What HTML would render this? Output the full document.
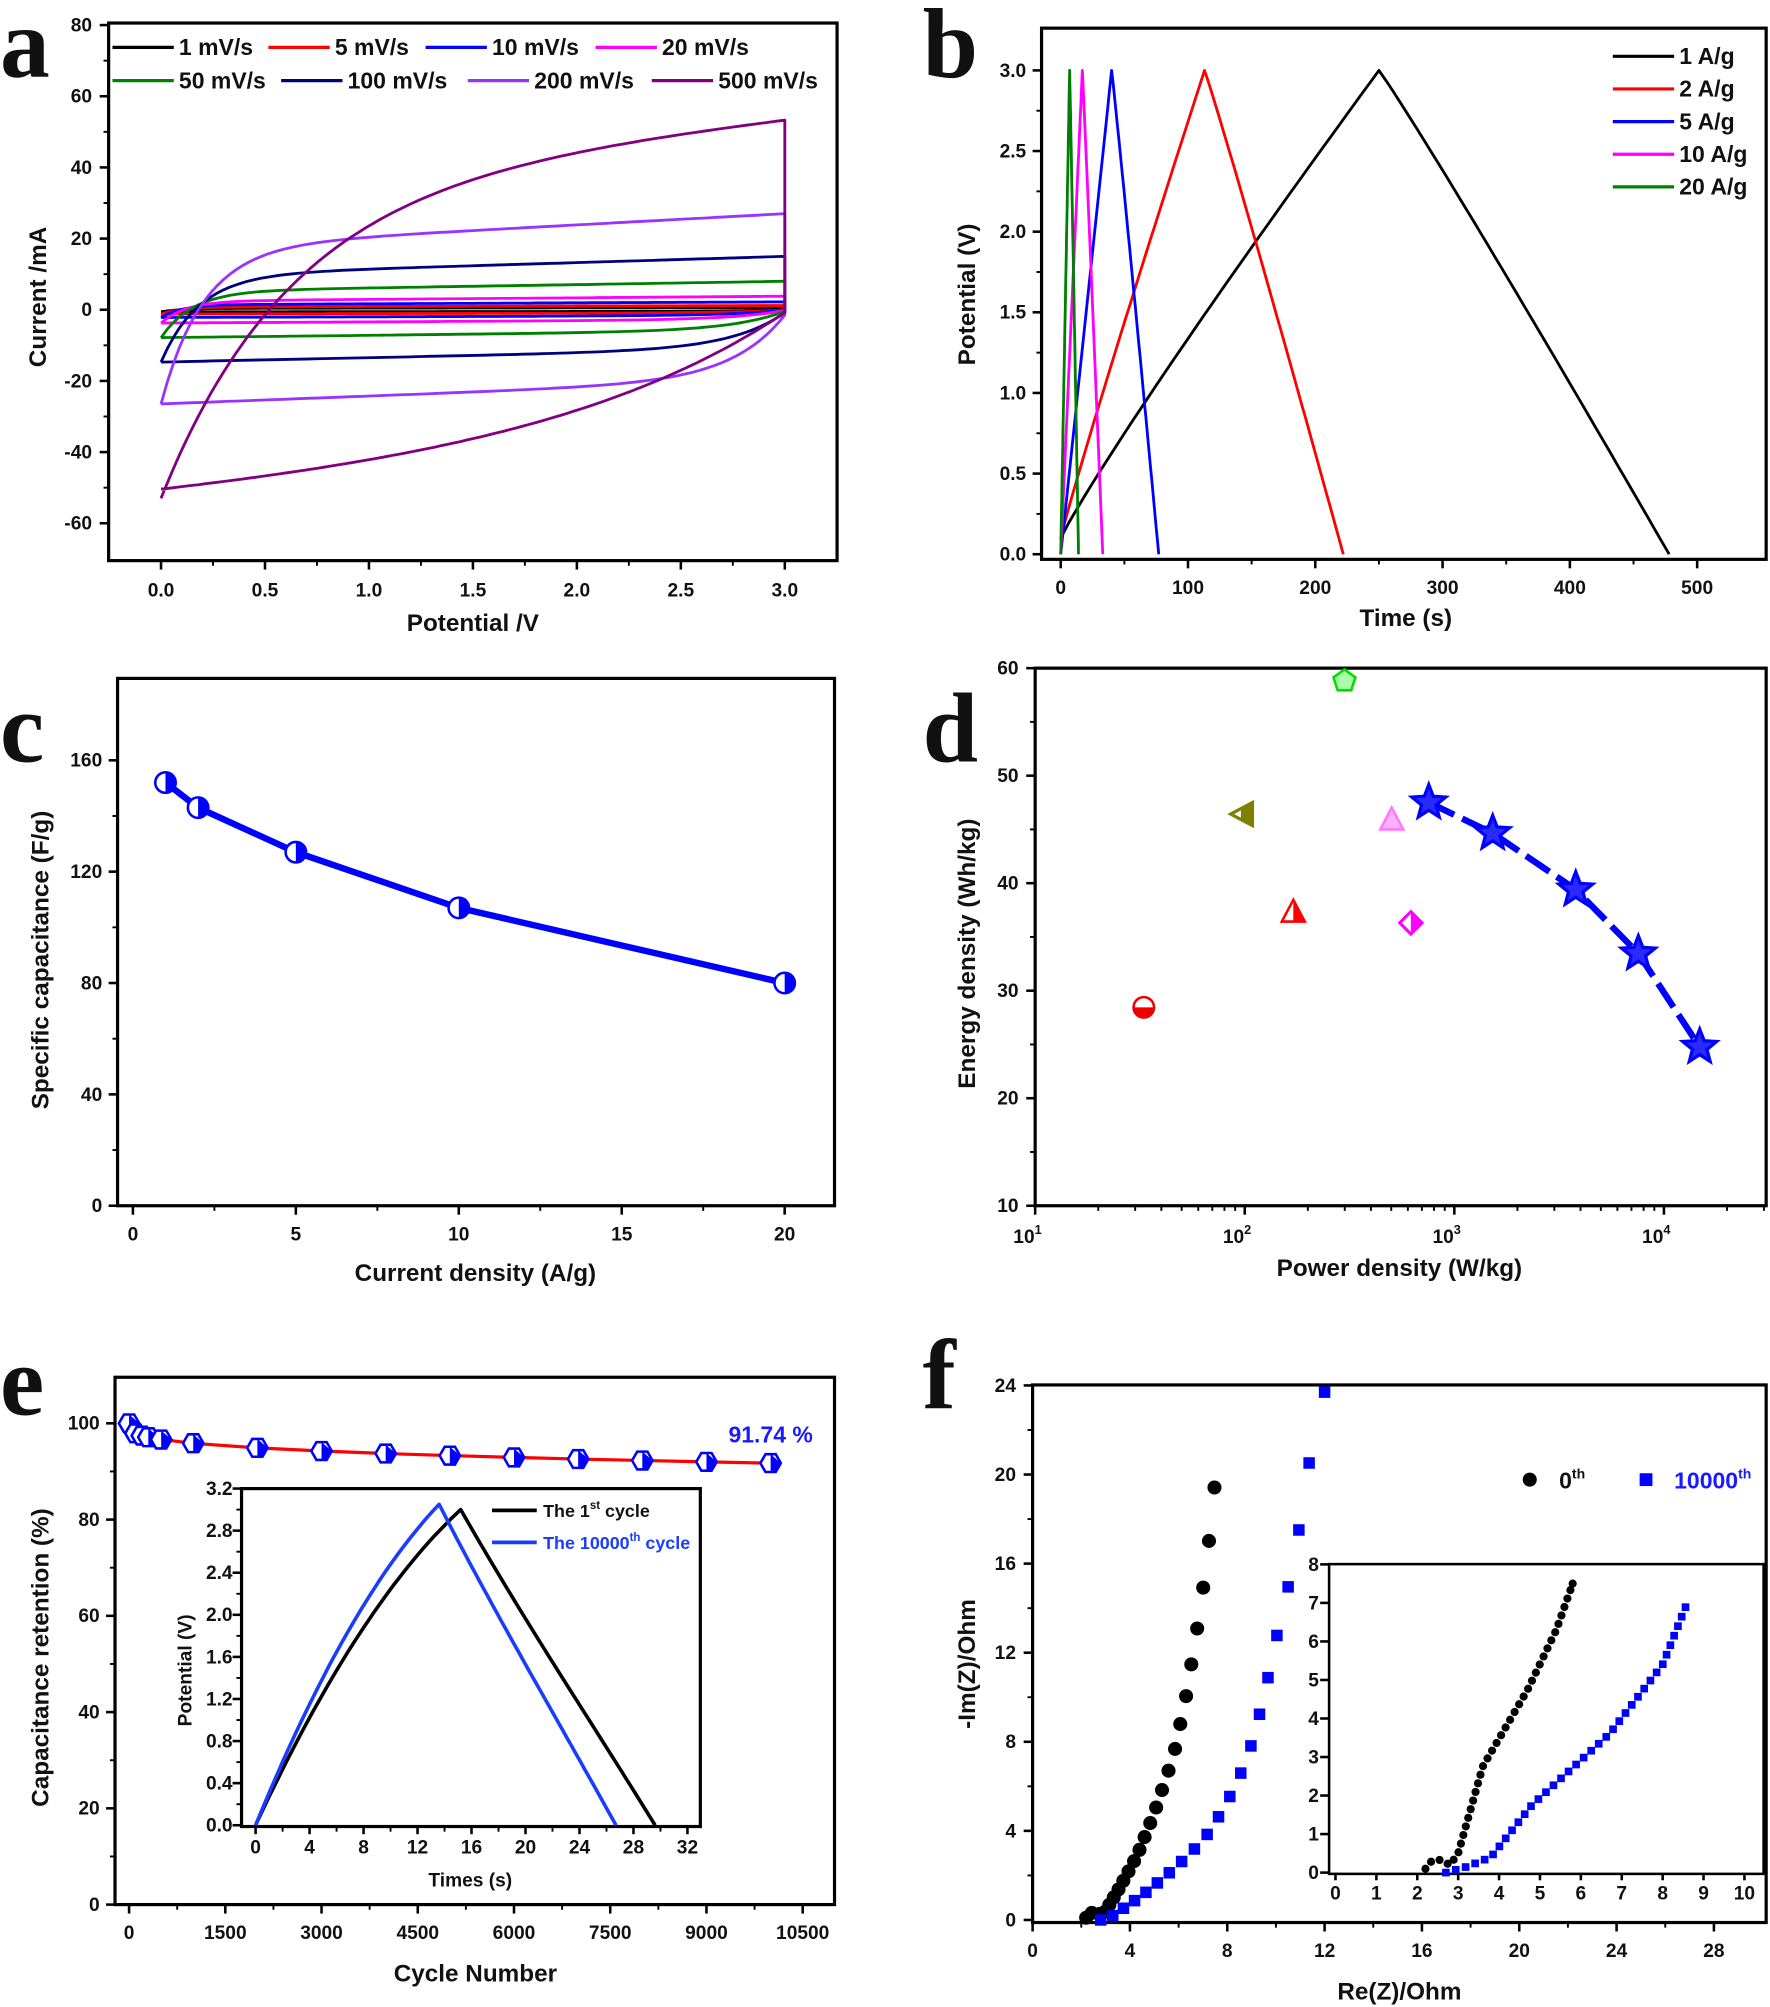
<!DOCTYPE html>
<html><head><meta charset="utf-8"><style>
html,body{margin:0;padding:0;background:#fff}
svg{display:block}
text{font-family:"Liberation Sans",Arial,sans-serif;font-weight:bold;fill:#111}
.big{font-family:"Liberation Serif",serif;font-weight:bold}
</style></head><body>
<svg id="s" width="1770" height="2007" viewBox="0 0 1385 1568" preserveAspectRatio="none" xmlns="http://www.w3.org/2000/svg"></svg>
<script>
let h='';
function L(x1,y1,x2,y2,c,w,ex){h+=`<line x1="${x1}" y1="${y1}" x2="${x2}" y2="${y2}" stroke="${c||'#000'}" stroke-width="${w||2}" ${ex||''}/>`;}
function T(x,y,t,sz,an,ex){h+=`<text x="${x}" y="${y}" font-size="${sz||15}" text-anchor="${an||'middle'}" ${ex||''}>${t}</text>`;}
function P(pts,c,w,ex){h+=`<polyline fill="none" stroke="${c}" stroke-width="${w||2}" stroke-linejoin="round" points="${pts.map(p=>p[0].toFixed(1)+','+p[1].toFixed(1)).join(' ')}" ${ex||''}/>`;}
function box(x1,y1,x2,y2,w){h+=`<rect x="${x1}" y="${y1}" width="${x2-x1}" height="${y2-y1}" fill="none" stroke="#000" stroke-width="${w||2.5}"/>`;}
function xt(xs,y,labels,ly,minor,len){xs.forEach((x,i)=>{L(x,y,x,y+(len||7),'#000',2);if(labels&&labels[i]!=null)T(x,ly,labels[i],15);});
 if(minor){for(let i=0;i<xs.length-1;i++){const m=(xs[i]+xs[i+1])/2;L(m,y,m,y+4,'#000',1.5);}}}
function yt(ys,x,labels,lx,minor){ys.forEach((y,i)=>{L(x-7,y,x,y,'#000',2);if(labels&&labels[i]!=null)T(lx,y+5,labels[i],15,'end');});
 if(minor){for(let i=0;i<ys.length-1;i++){const m=(ys[i]+ys[i+1])/2;L(x-4,m,x,m,'#000',1.5);}}}
function rot(x,y,t,sz){h+=`<text x="${x}" y="${y}" font-size="${sz||19}" text-anchor="middle" transform="rotate(-90 ${x} ${y})">${t}</text>`;}
function big(x,y,t){h+=`<text class="big" x="${x}" y="${y}" font-size="78" text-anchor="start">${t}</text>`;}

// ---------- Panel a ----------
{const X=v=>126+v*162.7,Y=v=>242-v*2.78;
box(85,18,655,438);
xt([0,.5,1,1.5,2,2.5,3].map(X),438,['0.0','0.5','1.0','1.5','2.0','2.5','3.0'],466,true);
yt([80,60,40,20,0,-20,-40,-60].map(Y),85,['80','60','40','20','0','-20','-40','-60'],72,true);
rot(36,232,'Current /mA');T(370,493,'Potential /V',19);big(0,60,'a');
const sets=[[0.6,'#000',0.1],[1.2,'#ff0000',0.1],[2.2,'#0000ff',0.1],[3.8,'#ff00ff',0.12],[8,'#008000',0.15],[15,'#000080',0.18],[27,'#9933ff',0.2],[54,'#800080',0.6]];
sets.forEach(([A,c,tau])=>{const pts=[];const lo=(A>40?-53:-A*0.98);
 for(let i=0;i<=100;i++){const x=3*i/100;const b=A*(0.65+0.35*x/3);const e=Math.exp(-x/tau);pts.push([X(x),Y(b*(1-e)+lo*e)]);}
 const t2=A>40?1:0.25;
 for(let i=100;i>=0;i--){const x=3*i/100;const v=lo*(1-0.25*x/3)*(1-Math.exp(-(3.02-x)/t2));pts.push([X(x),Y(v)]);}
 P(pts,c,2.2);});
const leg=[[88,37,'#000','1 mV/s'],[210,37,'#ff0000','5 mV/s'],[333,37,'#0000ff','10 mV/s'],[466,37,'#ff00ff','20 mV/s'],[88,63,'#008000','50 mV/s'],[220,63,'#000080','100 mV/s'],[366,63,'#9933ff','200 mV/s'],[510,63,'#800080','500 mV/s']];
leg.forEach(([x,y,c,t])=>{L(x,y,x+48,y,c,2.5);T(x+52,y+6,t,18,'start');});}

// ---------- Panel b ----------
{const X=v=>830+v*0.996,Y=v=>433-v*126;
box(815,22,1382,437);
xt([0,100,200,300,400,500].map(X),437,['0','100','200','300','400','500'],464,true);
yt([3,2.5,2,1.5,1,.5,0].map(Y),815,['3.0','2.5','2.0','1.5','1.0','0.5','0.0'],803,true);
rot(763,230,'Potential (V)');T(1100,489,'Time (s)',19);big(722,60,'b');
const cs=[[0.1,250,478,'#000',0.93],[0.1,113,222,'#ff0000',0.95],[0,40,77,'#0000ff',1],[0,17,33,'#ff00ff',1],[0,7,14,'#008000',1]];
cs.forEach(([v0,tp,te,c,p])=>{const pts=[];for(let i=0;i<=40;i++){const f=i/40;pts.push([X(tp*f),Y(v0+(3-v0)*Math.pow(f,p))]);}
 for(let i=0;i<=40;i++){const f=i/40;pts.push([X(tp+(te-tp)*f),Y(3-3*Math.pow(f,1.04))]);}P(pts,c,2.2);});
[['#000','1 A/g'],['#ff0000','2 A/g'],['#0000ff','5 A/g'],['#ff00ff','10 A/g'],['#008000','20 A/g']].forEach(([c,t],i)=>{const y=44+i*25.5;L(1262,y,1310,y,c,2.5);T(1314,y+6,t,18,'start');});}

// ---------- Panel c ----------
function halfC(x,y,r,c,ang){h+=`<circle cx="${x}" cy="${y}" r="${r}" fill="#fff" stroke="${c}" stroke-width="2"/><path d="M${x},${y-r} A${r},${r} 0 0 1 ${x},${y+r} Z" fill="${c}" transform="rotate(${ang||0} ${x} ${y})"/>`;}
{const X=v=>104+v*25.5,Y=v=>942-v*2.175;
box(92,530,653,942);
xt([0,5,10,15,20].map(X),942,['0','5','10','15','20'],969,true);
yt([160,120,80,40,0].map(Y),92,['160','120','80','40','0'],80,true);
rot(38,750,'Specific capacitance (F/g)');T(372,1001,'Current density (A/g)',19);big(0,595,'c');
const d=[[1,152],[2,143],[5,127],[10,107],[20,80]];P(d.map(p=>[X(p[0]),Y(p[1])]),'#0000ff',5);
d.forEach(p=>halfC(X(p[0]),Y(p[1]),8,'#0000ff'));}

// ---------- Panel d ----------
{const X=v=>810+(Math.log10(v)-1)*164,Y=v=>942-(v-10)*8.4;
box(810,522,1382,942);
xt([1,2,3,4].map(k=>X(Math.pow(10,k))),942,null,0,false);
for(let k=1;k<5;k++)for(let m=2;m<10;m++){const x=X(m*Math.pow(10,k));if(x<1382)L(x,942,x,946,'#000',1.5);}
[1,2,3,4].forEach(k=>{const x=X(Math.pow(10,k));h+=`<text x="${x-6}" y="971" font-size="15" text-anchor="middle">10<tspan dy="-7" font-size="10">${k}</tspan></text>`;});
yt([60,50,40,30,20,10].map(Y),810,['60','50','40','30','20','10'],797,true);
rot(763,745,'Energy density (Wh/kg)');T(1095,997,'Power density (W/kg)',19);big(722,595,'d');
const st=[[1118,627],[1168,651],[1233,695],[1282,745],[1330,818]];
P(st,'#0000ff',5,'stroke-dasharray="22 7"');
st.forEach(([x,y])=>{let d='';for(let i=0;i<10;i++){const r=i%2?6:14,a=-Math.PI/2+i*Math.PI/5;d+=(i?'L':'M')+(x+r*Math.cos(a)).toFixed(1)+','+(y+r*Math.sin(a)).toFixed(1);}h+=`<path d="${d}Z" fill="#2a2aff" stroke="#0000ff" stroke-width="2.5"/>`;});
{let x=1052,y=532,d='';for(let i=0;i<5;i++){const a=-Math.PI/2+i*2*Math.PI/5;d+=(i?'L':'M')+(x+9*Math.cos(a)).toFixed(1)+','+(y+9*Math.sin(a)).toFixed(1);}h+=`<path d="${d}Z" fill="#aaffaa" stroke="#00dd00" stroke-width="2"/>`;}
h+=`<path d="M963,636 L980,627 L980,645 Z" fill="#fff" stroke="#808000" stroke-width="2.5"/><path d="M971,632 L980,627 L980,645 L971,640Z" fill="#808000"/>`;
h+=`<path d="M1089,631 L1098,648 L1080,648 Z" fill="#ffb0ff" stroke="#ff77ff" stroke-width="2"/>`;
h+=`<path d="M1012,703 L1021,720 L1003,720 Z" fill="#fff" stroke="#ff0000" stroke-width="2"/><path d="M1012,703 L1021,720 L1012,720 Z" fill="#ff0000"/>`;
h+=`<path d="M1104,712 L1113,721 L1104,730 L1095,721 Z" fill="#ff00ff" stroke="#ff00ff" stroke-width="2"/><path d="M1104,714 L1097,721 L1104,728Z" fill="#fff"/>`;
h+=`<circle cx="895" cy="787" r="8" fill="#fff" stroke="#e00" stroke-width="2"/><path d="M887,787 A8,8 0 0 0 903,787Z" fill="#e00"/>`;}

// ---------- Panel e ----------
{const X=v=>101+v*0.0502,Y=v=>1488-v*3.76;
box(90,1076,653,1488);
xt([0,1500,3000,4500,6000,7500,9000,10500].map(X),1488,['0','1500','3000','4500','6000','7500','9000','10500'],1515,true);
yt([100,80,60,40,20,0].map(Y),90,['100','80','60','40','20','0'],78,true);
rot(38,1295,'Capacitance retention (%)');T(372,1548,'Cycle Number',19);big(0,1105,'e');
const cy=[0,100,200,300,500,1000,2000,3000,4000,5000,6000,7000,8000,9000,10000];
const val=c=>100-8.26*Math.pow(c/10000,0.3);
const pts=cy.map(c=>[X(c),Y(val(c))]);P(pts,'#ff0000',2.5);
pts.forEach(([x,y])=>{let d='';for(let i=0;i<6;i++){const a=i*Math.PI/3;d+=(i?'L':'M')+(x+8*Math.cos(a)).toFixed(1)+','+(y+8*Math.sin(a)).toFixed(1);}h+=`<path d="${d}Z" fill="#fff" stroke="#0000ff" stroke-width="2"/><path d="M${x},${y-7} L${x+8},${y} L${x+4},${y+7} L${x},${y+7}Z" fill="#0000ff"/>`;});
h+=`<text x="570" y="1127" font-size="18" text-anchor="start" style="fill:#1a1aff">91.74 %</text>`;
h+=`<rect x="189" y="1163" width="359" height="264" fill="#fff"/>`;box(189,1163,548,1427,2.5);
const IX=v=>200+v*10.56,IY=v=>1426-v*82.2;
xt([0,4,8,12,16,20,24,28,32].map(IX),1427,['0','4','8','12','16','20','24','28','32'],1448,true,6);
yt([3.2,2.8,2.4,2,1.6,1.2,.8,.4,0].map(IY),189,['3.2','2.8','2.4','2.0','1.6','1.2','0.8','0.4','0.0'],182,true);
rot(150,1305,'Potential (V)',15);T(368,1474,'Times (s)',15);
[[15.2,29.6,3.0,'#000'],[13.6,26.7,3.05,'#1a3cff']].forEach(([tp,te,vm,c])=>{const p=[];for(let i=0;i<=40;i++){const f=i/40;p.push([IX(tp*f),IY(vm*(0.6*f+0.4*(1-Math.pow(1-f,2))))]);}
 for(let i=0;i<=40;i++){const f=i/40;p.push([IX(tp+(te-tp)*f),IY(vm*(1-f)*(1-0.08*f*(1-f)))]);}P(p,c,2.8);});
L(385,1180,420,1180,'#000',3);h+=`<text x="425" y="1185" font-size="14" text-anchor="start">The 1<tspan dy="-6" font-size="9">st</tspan><tspan dy="6"> cycle</tspan></text>`;
L(385,1205,420,1205,'#1a3cff',3);h+=`<text x="425" y="1210" font-size="14" text-anchor="start" style="fill:#1a3cff">The 10000<tspan dy="-6" font-size="9">th</tspan><tspan dy="6"> cycle</tspan></text>`;}

// ---------- Panel f ----------
function sampleLine(pl,X,Y,stepF){const px=pl.map(p=>[X(p[0]),Y(p[1]),p[1]]);const out=[];let acc=0;out.push(px[0]);let step=stepF(px[0][2]);
 for(let i=0;i<px.length-1;i++){const[a,b]=[px[i],px[i+1]];const L2=Math.hypot(b[0]-a[0],b[1]-a[1]);let t=0;
  while(true){const rem=(step-acc);if(t*L2+rem<=L2){t+=rem/L2;acc=0;const q=[a[0]+(b[0]-a[0])*t,a[1]+(b[1]-a[1])*t,a[2]+(b[2]-a[2])*t];out.push(q);step=stepF(q[2]);}else{acc+=L2*(1-t);break;}}}
 const last=px[px.length-1],pl2=out[out.length-1];if(Math.hypot(last[0]-pl2[0],last[1]-pl2[1])>step*0.5)out.push(last);
 return out;}
{const X=v=>808+v*19.04,Y=v=>1500-v*17.4;
box(808,1082,1382,1502);
xt([0,4,8,12,16,20,24,28].map(X),1502,['0','4','8','12','16','20','24','28'],1529,true);
yt([24,20,16,12,8,4,0].map(Y),808,['24','20','16','12','8','4','0'],795,true);
rot(763,1300,'-Im(Z)/Ohm');T(1095,1562,'Re(Z)/Ohm',19);big(722,1100,'f');
const bl=[[2.2,0.1],[2.35,0.3],[2.6,0.35],[2.85,0.2],[3.0,0.4],[3.6,1.5],[4.3,2.9],[5.0,4.8],[5.8,7.4],[6.3,10],[6.6,12],[6.9,14],[7.2,16.5],[7.5,19.7]];
sampleLine(bl,X,Y,v=>6+1.2*Math.pow(v,1.2)).forEach(([x,y])=>h+=`<circle cx="${x}" cy="${y}" r="5.5" fill="#000"/>`);
const bu=[[2.8,0],[3.3,0.2],[4.5,1.1],[5.5,2],[6.5,3],[7.3,4],[8,5.3],[8.6,6.7],[9.1,8.2],[9.6,10.5],[10.2,13.6],[10.8,16.3],[11.2,19.7],[12,23.7]];
sampleLine(bu,X,Y,v=>10+1.2*Math.pow(v,1.25)).forEach(([x,y])=>h+=`<rect x="${x-4.5}" y="${y-4.5}" width="9" height="9" fill="#0000ff"/>`);
h+=`<circle cx="1197" cy="1156" r="5.5" fill="#000"/>`;h+=`<text x="1220" y="1163" font-size="18" text-anchor="start">0<tspan dy="-8" font-size="11">th</tspan></text>`;
h+=`<rect x="1283" y="1151" width="10" height="10" fill="#0000ff"/>`;h+=`<text x="1310" y="1163" font-size="18" text-anchor="start" style="fill:#1a1aff">10000<tspan dy="-8" font-size="11">th</tspan></text>`;
box(1040,1222,1380,1464,2);
const IX=v=>1045+v*32,IY=v=>1463-v*30.1;
xt([0,1,2,3,4,5,6,7,8,9,10].map(IX),1464,['0','1','2','3','4','5','6','7','8','9','10'],1484,false,5);
yt([8,7,6,5,4,3,2,1,0].map(IY),1040,['8','7','6','5','4','3','2','1','0'],1032,false);
const ib=[[2.2,0.1],[2.35,0.3],[2.55,0.33],[2.8,0.2],[3.0,0.5],[3.6,2.75],[4.7,4.75],[5.4,6.3],[5.8,7.5]];
sampleLine(ib,IX,IY,v=>7).forEach(([x,y])=>h+=`<circle cx="${x}" cy="${y}" r="3.2" fill="#000"/>`);
const iu=[[2.7,0],[3.2,0.15],[3.8,0.4],[4.8,1.75],[6.7,3.6],[8,5.4],[8.6,7]];
sampleLine(iu,IX,IY,v=>8).forEach(([x,y])=>h+=`<rect x="${x-3}" y="${y-3}" width="6" height="6" fill="#0000ff"/>`);}
document.getElementById('s').innerHTML=h;
</script>
</body></html>
